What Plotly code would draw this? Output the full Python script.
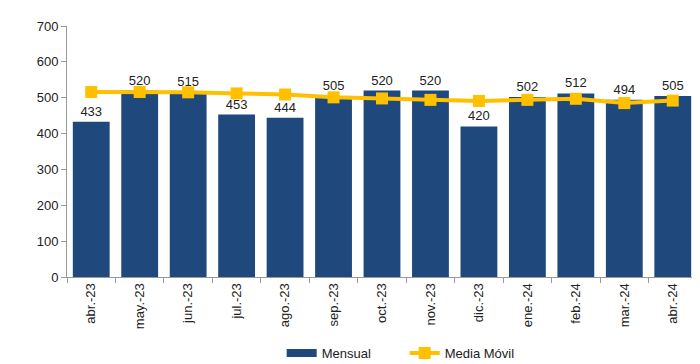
import plotly.graph_objects as go

months = ["abr.-23", "may.-23", "jun.-23", "jul.-23", "ago.-23", "sep.-23", "oct.-23",
          "nov.-23", "dic.-23", "ene.-24", "feb.-24", "mar.-24", "abr.-24"]
mensual = [433, 520, 515, 453, 444, 505, 520, 520, 420, 502, 512, 494, 505]
media_movil = [516, 516, 515, 512, 509, 501, 498, 494, 491, 494, 497, 485, 492]
y_ticks = [0, 100, 200, 300, 400, 500, 600, 700]

FONT = "Arial, Liberation Sans, sans-serif"
NAVY = "#1F497D"
GOLD = "#FFC000"

fig = go.Figure()
fig.add_trace(go.Bar(
    x=months, y=mensual, name="Mensual", showlegend=False, legendgroup="m",
    marker=dict(color=NAVY, line=dict(width=0)),
    text=[str(v) for v in mensual], textposition="outside",
    textfont=dict(size=13, color="#222222", family=FONT),
    cliponaxis=False,
))
# legend entry for the bars drawn as a wide band (no data points)
fig.add_trace(go.Scatter(
    x=[None], y=[None], name="Mensual", mode="lines", legendgroup="m",
    line=dict(color=NAVY, width=8),
))
fig.add_trace(go.Scatter(
    x=months, y=media_movil, name="Media Móvil", mode="lines+markers",
    line=dict(color=GOLD, width=4),
    marker=dict(symbol="square", size=12, color=GOLD),
    cliponaxis=False,
))

fig.update_layout(
    width=700, height=364,
    margin=dict(l=59, r=11, t=18, b=95, autoexpand=False),
    plot_bgcolor="white", paper_bgcolor="white",
    font=dict(family=FONT, size=13, color="#222222"),
    bargap=0.24,
    showlegend=True,
    legend=dict(orientation="h", xref="container", yref="container",
                x=0.391, xanchor="left", y=0.052, yanchor="middle",
                entrywidth=78, entrywidthmode="pixels",
                font=dict(size=13, color="#222222"), itemwidth=30, tracegroupgap=0),
)
fig.update_xaxes(
    type="category", range=[-0.5, len(months) - 0.5], tickangle=-90,
    showline=True, linecolor="#999999", linewidth=1,
    ticks="outside", ticklen=5, tickcolor="#999999", tickson="boundaries",
    tickfont=dict(size=13, color="#222222"), showgrid=False, automargin=False,
)
fig.update_yaxes(
    range=[0, 700], tickvals=y_ticks, showline=True, linecolor="#999999", linewidth=1,
    ticks="outside", ticklen=5, tickcolor="#999999", showgrid=False, zeroline=False,
    tickfont=dict(size=13, color="#222222"), automargin=False,
)

fig.write_html("out.html")
